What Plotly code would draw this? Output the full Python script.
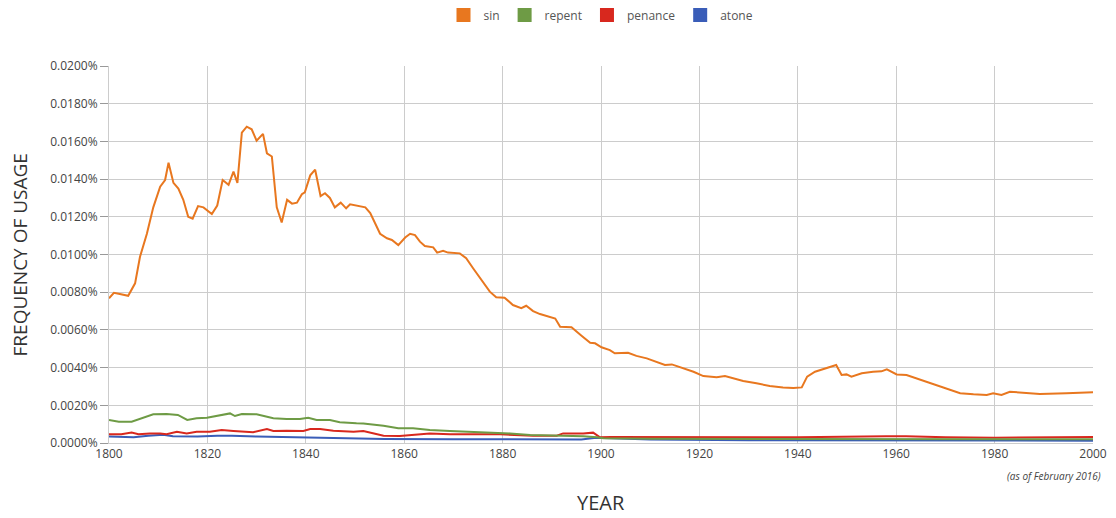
import plotly.graph_objects as go

# ---- data (values in percent) ----
sin_years = [1800, 1801, 1802.2, 1803.9, 1805.3, 1806.3, 1807.7, 1809, 1810.4, 1811.4, 1812.1, 1813.1, 1814.1,
             1815.1, 1816.1, 1817, 1818.1, 1819.2, 1820.9, 1822, 1823.1, 1824.3, 1825.3, 1826.1, 1827, 1828,
             1829, 1830, 1831.3, 1832.1, 1833.1, 1834.1, 1835.1, 1836.2, 1837.2, 1838.2, 1839.2, 1839.8,
             1840.9, 1841.9, 1843, 1843.9, 1844.9, 1845.9, 1847.1, 1848.2, 1849, 1850.4, 1852.1, 1853.1,
             1854.1, 1855.1, 1856.5, 1857.5, 1858.8, 1860.2, 1861.2, 1862.2, 1863.2, 1864.2, 1865.9, 1866.7,
             1867.9, 1868.9, 1871.3, 1872.6, 1874, 1875.7, 1877.4, 1878.7, 1880.4, 1882.1, 1883.8, 1884.8,
             1886.2, 1887.6, 1890.7, 1891.7, 1894, 1896.1, 1897.8, 1898.8, 1900.1, 1901.8, 1902.8, 1905.5,
             1907.2, 1909.3, 1911.3, 1913, 1914.4, 1916.7, 1918.8, 1920.8, 1923.5, 1925.2, 1926.9, 1928.9,
             1931.6, 1934.3, 1937, 1939.1, 1940.8, 1941.9, 1943.5, 1945.5, 1947.8, 1948.9, 1949.9, 1950.9,
             1953, 1955.3, 1957, 1958.1, 1960.1, 1962.1, 1966.2, 1968.9, 1973, 1975.7, 1978.4, 1979.7,
             1981.4, 1983.1, 1985.2, 1989.2, 1994.6, 2000]
sin_values = [0.00768, 0.00797, 0.0079, 0.00781, 0.00847, 0.00988, 0.0111, 0.0125, 0.0136, 0.01395, 0.01487,
              0.0138, 0.0135, 0.0129, 0.0120, 0.0119, 0.01257, 0.0125, 0.01215, 0.0126, 0.01395, 0.0137,
              0.0144, 0.0138, 0.01646, 0.01678, 0.01664, 0.01604, 0.0164, 0.01537, 0.0152, 0.0125, 0.0117,
              0.0129, 0.0127, 0.01275, 0.0132, 0.0133, 0.0142, 0.0145, 0.0131, 0.01325, 0.0130, 0.0125,
              0.01275, 0.01245, 0.01266, 0.0126, 0.0125, 0.0122, 0.0116, 0.0111, 0.01086, 0.01077, 0.0105,
              0.0109, 0.0111, 0.01103, 0.01068, 0.01045, 0.01038, 0.0101, 0.0102, 0.0101, 0.01006, 0.0098,
              0.00927, 0.00865, 0.00803, 0.00773, 0.00771, 0.00732, 0.00715, 0.00728, 0.0070, 0.00684,
              0.0066, 0.00617, 0.00614, 0.00568, 0.00532, 0.00529, 0.00508, 0.00493, 0.00476, 0.00479,
              0.00462, 0.00449, 0.00428, 0.00414, 0.00417, 0.00396, 0.00378, 0.00355, 0.00349, 0.00355,
              0.00343, 0.00329, 0.00317, 0.00302, 0.00295, 0.00292, 0.00295, 0.00352, 0.00378, 0.00393,
              0.00414, 0.00361, 0.00364, 0.00352, 0.0037, 0.00378, 0.0038, 0.00391, 0.00364, 0.00361,
              0.00325, 0.00299, 0.00264, 0.00258, 0.00255, 0.00264, 0.00255, 0.00272, 0.00269, 0.0026,
              0.00264, 0.00269]

repent_years = [1800, 1802, 1804.6, 1807, 1809, 1811.7, 1814, 1815.9, 1817.8, 1819.9, 1821.9, 1823.2, 1824.6,
                1825.6, 1827, 1830, 1831.7, 1833.4, 1836.1, 1838.8, 1840.5, 1842.2, 1844.9, 1846.9, 1850.3,
                1851.7, 1855.8, 1858.8, 1861.8, 1865.2, 1869.3, 1876, 1881.5, 1885.6, 1889.6, 1896.4, 1899.1,
                1900.5, 1910, 1920, 1940, 1960, 1980, 2000]
repent_values = [0.00122, 0.00113, 0.00113, 0.00134, 0.00152, 0.00154, 0.00149, 0.00122, 0.00131, 0.00134,
                 0.00143, 0.00152, 0.00157, 0.00143, 0.00154, 0.00152, 0.00143, 0.00131, 0.00127, 0.00127,
                 0.00134, 0.00122, 0.00122, 0.0011, 0.00105, 0.00104, 0.00092, 0.00078, 0.00078, 0.00069,
                 0.00064, 0.00057, 0.00051, 0.00042, 0.00039, 0.00036, 0.0003, 0.00025, 0.00022, 0.00022,
                 0.0002, 0.00022, 0.0002, 0.0002]

penance_years = [1800, 1802.5, 1804.6, 1806, 1808.3, 1810.4, 1811.7, 1813.8, 1815.8, 1817.8, 1820.5, 1822.9,
                 1825.3, 1829.3, 1832.1, 1833.4, 1836.1, 1839.5, 1840.9, 1842.9, 1845.6, 1849.7, 1851.7, 1853,
                 1855.8, 1859.1, 1862.5, 1865.2, 1869.3, 1879.5, 1886.2, 1891, 1892.3, 1896.4, 1898.4, 1899.8,
                 1902, 1920, 1940, 1958, 1962, 1970, 1980, 2000]
penance_values = [0.00046, 0.00046, 0.00055, 0.00046, 0.00051, 0.00051, 0.00046, 0.0006, 0.00051, 0.0006,
                  0.0006, 0.00069, 0.00064, 0.00057, 0.00074, 0.00064, 0.00065, 0.00064, 0.00074, 0.00074,
                  0.00065, 0.0006, 0.00064, 0.00057, 0.00039, 0.00037, 0.00046, 0.00051, 0.00046, 0.00046,
                  0.00039, 0.00039, 0.00051, 0.00051, 0.00055, 0.0003, 0.00032, 0.00032, 0.0003, 0.00036,
                  0.00036, 0.0003, 0.00028, 0.00032]

atone_years = [1800, 1805, 1808, 1811, 1813, 1818, 1822, 1825, 1830, 1838, 1842, 1849, 1856, 1870, 1890, 1896,
               1899, 1902, 1910, 1930, 1950, 1970, 2000]
atone_values = [0.00034, 0.0003, 0.00039, 0.00044, 0.00036, 0.00034, 0.00038, 0.00039, 0.00034, 0.0003,
                0.00025, 0.00025, 0.00021, 0.0002, 0.00018, 0.00019, 0.00028, 0.00026, 0.00018, 0.00015,
                0.00014, 0.00013, 0.00012]

series = [
    ("sin", sin_years, sin_values, "#E8771F"),
    ("repent", repent_years, repent_values, "#6E9B45"),
    ("penance", penance_years, penance_values, "#D8281E"),
    ("atone", atone_years, atone_values, "#3A5DB8"),
]

x_ticks = [1800, 1820, 1840, 1860, 1880, 1900, 1920, 1940, 1960, 1980, 2000]
y_ticks = [0, 0.002, 0.004, 0.006, 0.008, 0.010, 0.012, 0.014, 0.016, 0.018, 0.020]
y_tick_text = [f"{v:.4f}%" for v in y_ticks]

FONT = "Open Sans, Noto Sans, sans-serif"

fig = go.Figure()
# draw in reverse so sin is on top
for name, xs, ys, col in reversed(series):
    fig.add_trace(go.Scatter(x=xs, y=ys, mode="lines", name=name, showlegend=False,
                             line=dict(color=col, width=2)))
# legend entries with square markers
for name, xs, ys, col in series:
    fig.add_trace(go.Scatter(x=[None], y=[None], mode="markers", name=name, showlegend=True,
                             marker=dict(symbol="square", size=14, color=col)))

# the page body adds an 8px offset, so the margins are set to compensate
fig.update_layout(
    width=1108, height=510,
    margin=dict(l=101, r=23, t=58, b=75, autoexpand=False),
    paper_bgcolor="white", plot_bgcolor="white",
    font=dict(family=FONT, color="#444", size=12),
    legend=dict(orientation="h", x=0.5, xanchor="center", y=1.135, yref="paper", yanchor="middle",
                font=dict(size=12, color="#555"), itemwidth=30, traceorder="normal"),
    showlegend=True,
)
fig.update_xaxes(range=[1800, 2000], tickvals=x_ticks, showgrid=True, gridcolor="#cccccc", gridwidth=1,
                 showline=True, linecolor="#cccccc", zeroline=False, ticks="", automargin=False,
                 tickfont=dict(size=12, color="#444"))
fig.update_yaxes(range=[0, 0.02], tickvals=y_ticks, ticktext=y_tick_text, showgrid=True,
                 gridcolor="#cccccc", gridwidth=1, showline=True, linecolor="#cccccc", zeroline=False,
                 ticks="outside", ticklen=8, tickcolor="#999", automargin=False,
                 tickfont=dict(size=12, color="#444"))
# axis titles
fig.add_annotation(text="FREQUENCY OF USAGE", textangle=-90, x=-0.0905, xref="paper", xanchor="center",
                   y=0.5, yref="paper", yanchor="middle", showarrow=False,
                   font=dict(size=19, color="#333"))
fig.add_annotation(text="YEAR", x=0.5, xref="paper", xanchor="center",
                   y=-0.159, yref="paper", yanchor="middle", showarrow=False,
                   font=dict(size=20, color="#333"))
fig.add_annotation(text="<i>(as of February 2016)</i>", x=1.0, xref="paper", xanchor="right",
                   y=-0.0875, yref="paper", yanchor="middle", showarrow=False,
                   font=dict(size=10, color="#444"), xshift=10)

fig.write_html("out.html")
